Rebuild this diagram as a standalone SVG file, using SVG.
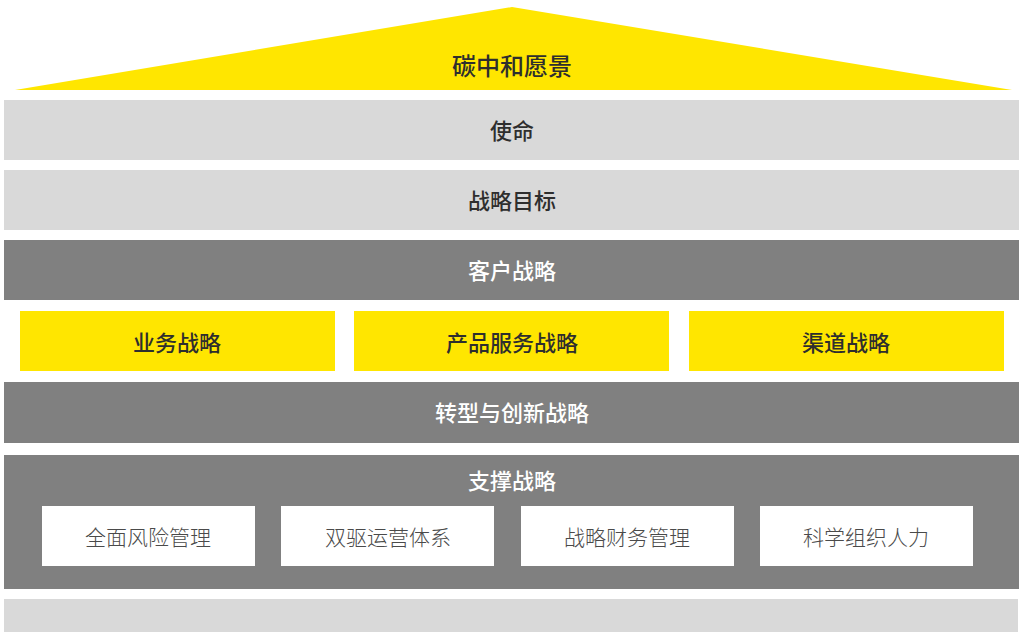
<svg xmlns="http://www.w3.org/2000/svg" width="1023" height="632" viewBox="0 0 1023 632">
<style>
.t{font-family:"Noto Sans CJK SC","Noto Sans",sans-serif;text-anchor:middle;dominant-baseline:central}
.light{fill:#d9d9d9}
.dark{fill:#808080}
.yel{fill:#ffe600}
.wh{fill:#ffffff}
.tk{fill:#2e2e2e;font-size:22px;font-weight:500}
.tw{fill:#ffffff;font-size:22px;font-weight:500}
.tb{fill:#4a4a4a;font-size:21px;font-weight:300}
</style>
<rect width="1023" height="632" fill="#ffffff"/>
<g id="vision">
<polygon class="yel" points="512,7 1012,90 15,90"/>
<text class="t tk" x="512" y="64" style="font-size:24px">碳中和愿景</text>
</g>
<g id="mission">
<rect class="light" x="4" y="100" width="1015" height="60"/>
<text class="t tk" x="512" y="129">使命</text>
</g>
<g id="goal">
<rect class="light" x="4" y="170" width="1015" height="60"/>
<text class="t tk" x="512" y="199">战略目标</text>
</g>
<g id="customer">
<rect class="dark" x="4" y="240" width="1015" height="60"/>
<text class="t tw" x="512" y="269">客户战略</text>
</g>
<g id="business">
<rect class="yel" x="20" y="311" width="315" height="60"/>
<text class="t tk" x="177" y="341">业务战略</text>
</g>
<g id="product">
<rect class="yel" x="354" y="311" width="315" height="60"/>
<text class="t tk" x="512" y="341">产品服务战略</text>
</g>
<g id="channel">
<rect class="yel" x="689" y="311" width="315" height="60"/>
<text class="t tk" x="846" y="341">渠道战略</text>
</g>
<g id="transform">
<rect class="dark" x="4" y="382" width="1015" height="61"/>
<text class="t tw" x="512" y="411">转型与创新战略</text>
</g>
<g id="support">
<rect class="dark" x="4" y="455" width="1015" height="134"/>
<text class="t tw" x="512" y="479">支撑战略</text>
</g>
<g id="risk">
<rect class="wh" x="42" y="506" width="213" height="60"/>
<text class="t tb" x="148" y="536">全面风险管理</text>
</g>
<g id="ops">
<rect class="wh" x="281" y="506" width="213" height="60"/>
<text class="t tb" x="388" y="536">双驱运营体系</text>
</g>
<g id="finance">
<rect class="wh" x="521" y="506" width="213" height="60"/>
<text class="t tb" x="627" y="536">战略财务管理</text>
</g>
<g id="hr">
<rect class="wh" x="760" y="506" width="213" height="60"/>
<text class="t tb" x="866" y="536">科学组织人力</text>
</g>
<g id="base">
<rect class="light" x="4" y="599" width="1014" height="33"/>
</g>
<g id="connectors"></g>
</svg>
